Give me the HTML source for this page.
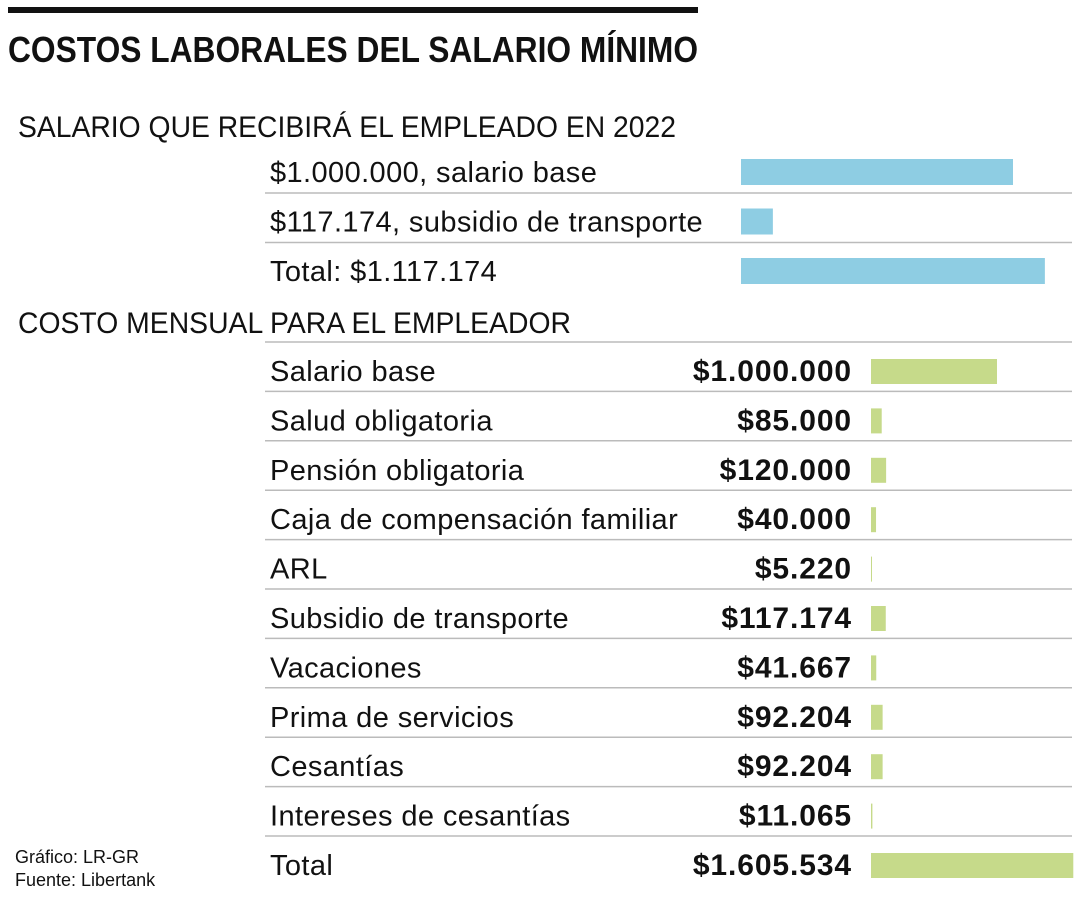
<!DOCTYPE html>
<html><head><meta charset="utf-8"><style>
html,body{margin:0;padding:0;background:#fff;}
svg{display:block;font-family:"Liberation Sans",sans-serif;}
</style></head><body>
<svg id="chart" width="1080" height="900" viewBox="0 0 1080 900">
  <rect x="8" y="7" width="690" height="6" fill="#111"/>
  <text x="8" y="62" font-size="36" font-weight="bold" fill="#111" textLength="690" lengthAdjust="spacingAndGlyphs">COSTOS LABORALES DEL SALARIO MÍNIMO</text>
  <text x="18" y="137" font-size="30" fill="#111" textLength="658" lengthAdjust="spacingAndGlyphs">SALARIO QUE RECIBIRÁ EL EMPLEADO EN 2022</text>
  <text x="18" y="333" font-size="30" fill="#111" textLength="553" lengthAdjust="spacingAndGlyphs">COSTO MENSUAL PARA EL EMPLEADOR</text>
  <text x="15" y="863" font-size="18" fill="#111">Gráfico: LR-GR</text>
  <text x="15" y="886" font-size="18" fill="#111">Fuente: Libertank</text>
  <g id="g1"></g>
  <g id="g2"></g>
</svg>
<script>
const empLabels = ["$1.000.000, salario base", "$117.174, subsidio de transporte", "Total: $1.117.174"];
const empValues = [1000000, 117174, 1117174];
const costLabels = ["Salario base","Salud obligatoria","Pensión obligatoria","Caja de compensación familiar","ARL","Subsidio de transporte","Vacaciones","Prima de servicios","Cesantías","Intereses de cesantías","Total"];
const costValues = [1000000,85000,120000,40000,5220,117174,41667,92204,92204,11065,1605534];
const costText = ["$1.000.000","$85.000","$120.000","$40.000","$5.220","$117.174","$41.667","$92.204","$92.204","$11.065","$1.605.534"];

const NS="http://www.w3.org/2000/svg";
function mk(tag, attrs, parent){const e=document.createElementNS(NS,tag);for(const k in attrs)e.setAttribute(k,attrs[k]);parent.appendChild(e);return e;}
const xEmp=v=>v*272/1000000;
const xCost=v=>v*126/1000000;
const yEmp=i=>172+i*49.5;
const yCost=i=>371+i*49.4;

const g1=document.getElementById('g1');
empLabels.forEach((lab,i)=>{
  const c=yEmp(i);
  if(i<2){
    const l=mk('line',{x1:265,x2:1072,y1:c+21,y2:c+21,stroke:'#bbb','stroke-width':1.5},g1);
    
    
  }
  const t=mk('text',{x:270,y:c+10,'font-size':29,'letter-spacing':0.4,fill:'#111'},g1);
  t.textContent=lab;
  
  
  const r=mk('rect',{x:741,y:c-13,width:xEmp(empValues[i]),height:26,fill:'#8ecde3'},g1);
  
  
});

const g2=document.getElementById('g2');
costLabels.forEach((lab,i)=>{
  const c=yCost(i);
  const l=mk('line',{x1:265,x2:1072,y1:c-29,y2:c-29,stroke:'#bbb','stroke-width':1.5},g2);
  
  
  const t=mk('text',{x:270,y:c+10,'font-size':29,'letter-spacing':0.4,fill:'#111'},g2);
  t.textContent=lab;
  
  
  const v=mk('text',{x:852,y:c+10,'font-size':30,'letter-spacing':0.9,'font-weight':'bold','text-anchor':'end',fill:'#111'},g2);
  v.textContent=costText[i];
  
  
  const r=mk('rect',{x:871,y:c-12,width:Math.max(xCost(costValues[i]),1),height:25,fill:'#c6da8a'},g2);
  
  
});
</script>
</body></html>
